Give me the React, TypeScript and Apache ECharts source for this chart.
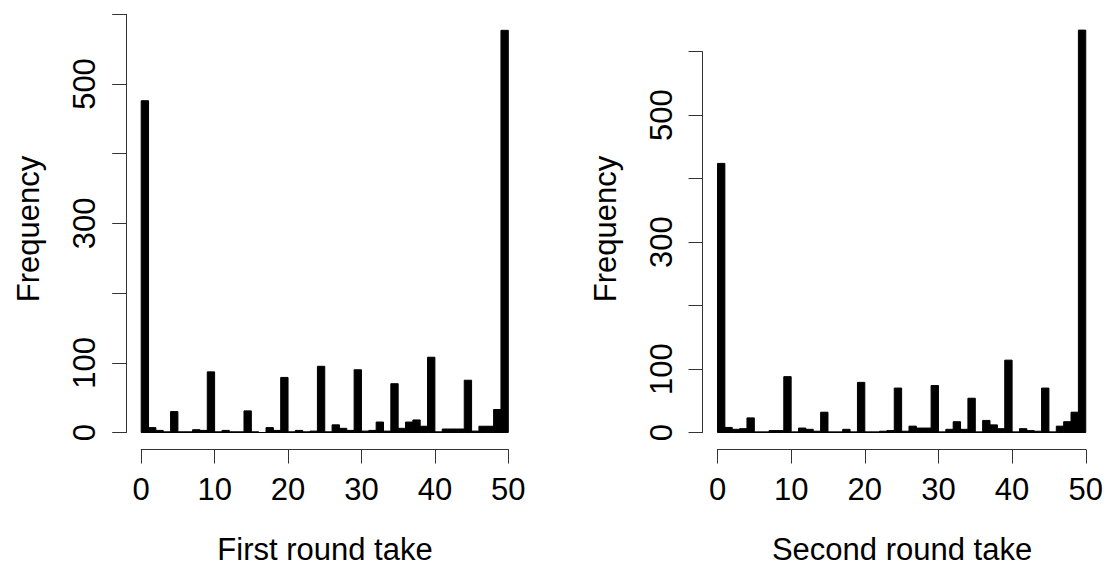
import React, { useEffect, useRef } from "react";
import * as echarts from "echarts";

// Histogram bin edges (integer bins, right-closed as in R's hist)
const binEdges = [
  0, 1, 2, 3, 4, 5, 6, 7, 8, 9, 10, 11, 12, 13, 14, 15, 16, 17, 18, 19, 20,
  21, 22, 23, 24, 25, 26, 27, 28, 29, 30, 31, 32, 33, 34, 35, 36, 37, 38, 39, 40,
  41, 42, 43, 44, 45, 46, 47, 48, 49, 50,
];

// Frequencies, first round take
const firstRound = [
  476, 7, 3, 1, 30, 1, 1, 4, 3, 87, 1, 3, 1, 1, 31, 1, 0, 7, 3, 79,
  1, 3, 1, 2, 95, 1, 11, 6, 3, 90, 2, 3, 15, 2, 70, 6, 15, 18, 9, 108,
  1, 5, 5, 5, 75, 2, 9, 9, 33, 577,
];

// Frequencies, second round take
const secondRound = [
  424, 8, 5, 6, 23, 1, 1, 3, 3, 88, 1, 7, 5, 2, 32, 1, 1, 5, 1, 79,
  1, 1, 2, 3, 70, 2, 10, 7, 7, 74, 1, 5, 17, 5, 54, 1, 19, 12, 6, 114,
  1, 6, 3, 2, 70, 1, 10, 17, 32, 634,
];

const xTicks = [0, 10, 20, 30, 40, 50];
const yLabelled = [0, 100, 300, 500];
const xTitles = ["First round take", "Second round take"];
const yTitle = "Frequency";

const FONT = "'Liberation Sans', Arial, Helvetica, sans-serif";
const AXIS = "#333";
const FS = 31;

function toData(counts: number[]) {
  return counts.map((c, i) => [binEdges[i], binEdges[i + 1], c]);
}

function renderItem(_params: any, api: any) {
  const lo = api.value(0);
  const hi = api.value(1);
  const c = api.value(2);
  const p0 = api.coord([lo, c]);
  const p1 = api.coord([hi, 0]);
  return {
    type: "rect",
    shape: { x: p0[0], y: p0[1], width: p1[0] - p0[0], height: p1[1] - p0[1] },
    style: { fill: "#000", stroke: "#000", lineWidth: 1 },
  };
}

function makeX(gridIndex: number) {
  return {
    type: "value",
    gridIndex,
    min: xTicks[0],
    max: xTicks[xTicks.length - 1],
    interval: 10,
    offset: 17,
    axisLine: { show: true, onZero: false, lineStyle: { color: AXIS, width: 1 } },
    axisTick: { show: true, length: 14, inside: false, lineStyle: { color: AXIS, width: 1 } },
    axisLabel: { fontSize: FS, fontFamily: FONT, color: "#000", margin: 24 },
    splitLine: { show: false },
  };
}

function makeY(gridIndex: number) {
  return {
    type: "value",
    gridIndex,
    position: "left",
    min: 0,
    max: 600,
    interval: 100,
    offset: 15,
    axisLine: { show: true, onZero: false, lineStyle: { color: AXIS, width: 1 } },
    axisTick: { show: true, length: 14, inside: false, lineStyle: { color: AXIS, width: 1 } },
    axisLabel: {
      rotate: 90,
      fontSize: FS,
      fontFamily: FONT,
      color: "#000",
      margin: 26,
      formatter: (v: number) => (yLabelled.indexOf(v) >= 0 ? String(v) : ""),
    },
    splitLine: { show: false },
  };
}

function textEl(text: string, x: number, y: number, rotation = 0) {
  return {
    type: "text",
    x,
    y,
    rotation,
    style: {
      text,
      fontSize: FS,
      fontFamily: FONT,
      fill: "#000",
      align: "center",
      verticalAlign: "middle",
      textAlign: "center",
      textVerticalAlign: "middle",
    },
  };
}

export default function App() {
  const ref = useRef<HTMLDivElement>(null);
  useEffect(() => {
    if (!ref.current) return;
    const chart = echarts.init(ref.current, undefined, { renderer: "svg" });
    chart.setOption({
      animation: false,
      backgroundColor: "#fff",
      grid: [
        { left: 141.2, top: 14.3, width: 367.1, height: 418.2 },
        { left: 717.5, top: 51.7, width: 370, height: 380.8 },
      ],
      xAxis: [makeX(0), makeX(1)],
      yAxis: [makeY(0), makeY(1)],
      series: [
        {
          type: "custom",
          xAxisIndex: 0,
          yAxisIndex: 0,
          clip: false,
          renderItem,
          encode: { x: [0, 1], y: 2 },
          data: toData(firstRound),
        },
        {
          type: "custom",
          xAxisIndex: 1,
          yAxisIndex: 1,
          clip: false,
          renderItem,
          encode: { x: [0, 1], y: 2 },
          data: toData(secondRound),
        },
      ],
      graphic: [
        textEl(xTitles[0], 325, 549),
        textEl(xTitles[1], 902, 549),
        textEl(yTitle, 28, 229, Math.PI / 2),
        textEl(yTitle, 605, 229, Math.PI / 2),
      ],
    });
    return () => chart.dispose();
  }, []);
  return (
    <div
      ref={ref}
      style={{ position: "absolute", left: 0, top: 0, width: 1106, height: 566, background: "#fff" }}
    />
  );
}
